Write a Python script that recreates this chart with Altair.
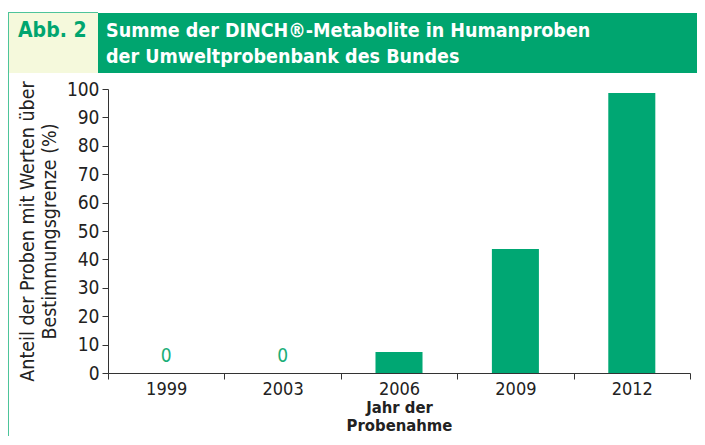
import altair as alt
import pandas as pd

years = ["1999", "2003", "2006", "2009", "2012"]
values = [0, 0, 7.4, 43.7, 98.6]
zero_labels = ["0", "0", "", "", ""]

header_tag = "Abb. 2"
header_title = ["Summe der DINCH®-Metabolite in Humanproben", "der Umweltprobenbank des Bundes"]
y_title = ["Anteil der Proben mit Werten über", "Bestimmungsgrenze (%)"]
x_title = ["Jahr der", "Probenahme"]

GREEN = "#00a773"
FONT = "DejaVu Sans Condensed, Liberation Sans Narrow, sans-serif"

df = pd.DataFrame({"year": years, "value": values, "zero": zero_labels})

base = alt.Chart(df)

xenc = alt.X("year:N", sort=years,
             scale=alt.Scale(paddingInner=0, paddingOuter=0),
             axis=alt.Axis(title=x_title, labelAngle=0, tickBand="extent", labelPadding=1,
                           labelFontSize=18, titleFontWeight="bold", titlePadding=1,
                           titleLineHeight=18, titleFontSize=16.5))
yenc = alt.Y("value:Q", scale=alt.Scale(domain=[0, 100]),
             axis=alt.Axis(title=y_title, values=list(range(0, 101, 10)), labelOverlap=False,
                           grid=False, titlePadding=7, titleFontWeight="normal",
                           titleFontSize=19.5, titleLineHeight=22))

bars = base.mark_bar(color=GREEN, width=alt.RelativeBandSize(0.404)).encode(x=xenc, y=yenc)

zeros = base.transform_filter(alt.datum.zero != "").mark_text(
    color="#1aae78", fontSize=19, dy=-17, font=FONT
).encode(x=xenc, y=yenc, text="zero:N")

hdr = pd.DataFrame({"k": [0]})
hb = alt.Chart(hdr)
yellow = hb.mark_rect(color="#f5f9dc").encode(
    x=alt.value(-100), x2=alt.value(-10), y=alt.value(-76), y2=alt.value(-16))
greenbox = hb.mark_rect(color="#00a56f").encode(
    x=alt.value(-10), x2=alt.value(620), y=alt.value(-76), y2=alt.value(-16))
topline = hb.mark_rect(color="#4dc49a").encode(
    x=alt.value(-101), x2=alt.value(-10), y=alt.value(-77), y2=alt.value(-76))
leftline = hb.mark_rect(color="#4dc49a").encode(
    x=alt.value(-101), x2=alt.value(-99), y=alt.value(-77), y2=alt.value(380))
tag = hb.mark_text(text=header_tag, color="#00a56f", fontSize=21, fontWeight="bold",
                   align="left", baseline="alphabetic", font=FONT).encode(
    x=alt.value(-90), y=alt.value(-52))
title = hb.mark_text(text=header_title, color="white", fontSize=19.5, fontWeight="bold",
                     align="left", baseline="alphabetic", lineHeight=26, font=FONT).encode(
    x=alt.value(-2), y=alt.value(-52))

chart = alt.layer(yellow, greenbox, topline, leftline, tag, title, bars, zeros).properties(
    width=582, height=284,
    autosize=alt.AutoSizeParams(type="none"),
    padding={"left": 100, "top": 81, "right": 7, "bottom": 63},
).configure_view(stroke=None).configure_axis(
    labelFont=FONT, titleFont=FONT, labelFontSize=19, titleFontSize=18,
    labelColor="#222", titleColor="#222", domainColor="#333", tickColor="#333",
    tickSize=6, labelPadding=3,
)

chart.save("out.html", embed_options={"renderer": "svg", "actions": False})
